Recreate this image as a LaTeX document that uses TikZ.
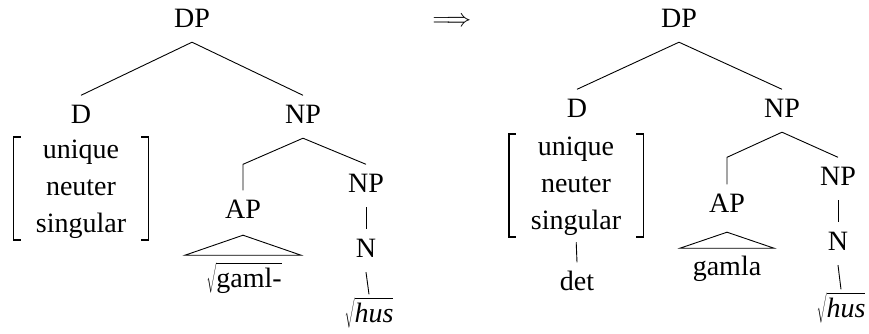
\documentclass[tikz,border=0pt]{standalone}
\usepackage{fontspec}
\setmainfont{Liberation Serif}

\newcommand{\rootof}[1]{$\sqrt{\rule[-6pt]{0pt}{29pt}\mbox{#1}}$}

\begin{document}
\begin{tikzpicture}[
  x=1pt, y=-1pt,
  font=\fontsize{28}{37}\selectfont,
  catnode/.style = {anchor=base, inner xsep=0pt, inner ysep=9pt,
                    text height=18.5pt, text depth=6pt},
  feat/.style    = {anchor=base, align=center, inner xsep=22pt, inner ysep=2pt},
  bracket/.style = {line width=1.6pt},
  branch/.style  = {line width=0.9pt}
]
\useasboundingbox (0,0) rectangle (869,333);

% ── Left tree ────────────────────────────────────────────────────────────────
\node[catnode] (dpL)  at (192,27)  {DP};
\node[catnode] (dL)   at (81,123)  {D};
\node[catnode] (npL)  at (303,123) {NP};
\node[feat]    (featL) at (81,232) {unique\\neuter\\singular};
\node[catnode] (apL)  at (243,218) {AP};
\node[catnode] (np2L) at (366,192) {NP};
\node[catnode] (nL)   at (366,257) {N};
\node[catnode] (rootL) at (244,287) {\rootof{gaml-}};
\node[catnode] (husL) at (369,322) {\rootof{\itshape hus}};

\draw[bracket] ([xshift=7pt]featL.north west) -- (featL.north west)
  -- (featL.south west) -- ++(7,0);
\draw[bracket] ([xshift=-7pt]featL.north east) -- (featL.north east)
  -- (featL.south east) -- ++(-7,0);

\draw[branch] (dpL.south) -- (dL.north);
\draw[branch] (dpL.south) -- (npL.north);
\draw[branch] (npL.south) -- (apL.north |- np2L.north) -- (apL.north);
\draw[branch] (npL.south) -- (np2L.north);
\draw[branch] (np2L.south) -- (nL.north);
\draw[branch] (nL.south) -- (husL.north);
\draw[branch] (apL.south) ++(0,2) -- ++(-58,20) -- ++(116,0) -- cycle;

% ── Arrow ────────────────────────────────────────────────────────────────────
\node[font=\fontsize{24}{24}\selectfont] (implies) at (452,22) {$\Longrightarrow$};

% ── Right tree ───────────────────────────────────────────────────────────────
\node[catnode] (dpR)  at (679,27)  {DP};
\node[catnode] (dR)   at (577,117) {D};
\node[catnode] (npR)  at (782,117) {NP};
\node[feat]    (featR) at (576,229) {unique\\neuter\\singular};
\node[catnode] (detR) at (577,290) {det};
\node[catnode] (apR)  at (727,212) {AP};
\node[catnode] (np2R) at (838,185) {NP};
\node[catnode] (nR)   at (838,250) {N};
\node[catnode] (gamlaR) at (727,275) {gamla};
\node[catnode] (husR) at (841,317) {\rootof{\itshape hus}};

\draw[bracket] ([xshift=7pt]featR.north west) -- (featR.north west)
  -- (featR.south west) -- ++(7,0);
\draw[bracket] ([xshift=-7pt]featR.north east) -- (featR.north east)
  -- (featR.south east) -- ++(-7,0);

\draw[branch] (dpR.south) -- (dR.north);
\draw[branch] (dpR.south) -- (npR.north);
\draw[branch] (npR.south) -- (apR.north |- np2R.north) -- (apR.north);
\draw[branch] (npR.south) -- (np2R.north);
\draw[branch] (np2R.south) -- (nR.north);
\draw[branch] (nR.south) -- (husR.north);
\draw[branch, shorten <=5pt] (featR.south) -- (detR.north);
\draw[branch] (apR.south) ++(0,5) -- ++(-47,16) -- ++(94,0) -- cycle;

\end{tikzpicture}
\end{document}
